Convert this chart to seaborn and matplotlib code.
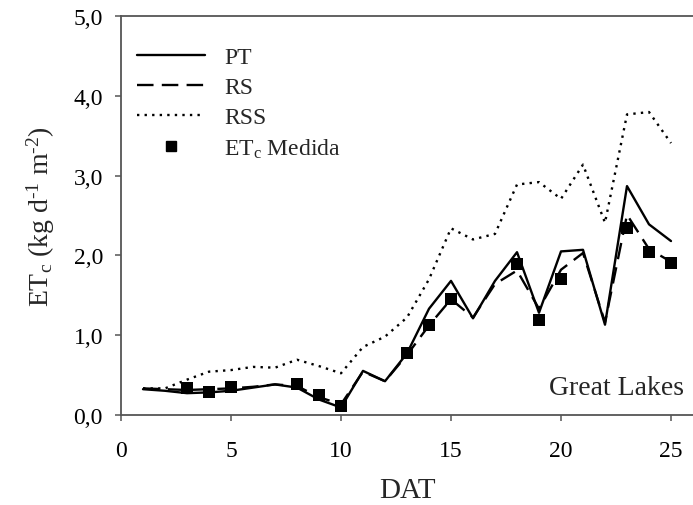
import matplotlib
matplotlib.use("Agg")
import matplotlib.pyplot as plt
import numpy as np
import pandas as pd
import seaborn as sns
from matplotlib.lines import Line2D
from matplotlib.ticker import FuncFormatter

# Days after transplanting and crop evapotranspiration (kg d-1 m-2)
dat = list(range(1, 26))
et_pt = [0.32, 0.30, 0.27, 0.28, 0.30, 0.34, 0.38, 0.34, 0.19, 0.09,
         0.55, 0.42, 0.77, 1.33, 1.68, 1.21, 1.68, 2.04, 1.28, 2.05,
         2.07, 1.13, 2.87, 2.39, 2.18]
et_rs = [0.33, 0.32, 0.31, 0.32, 0.33, 0.35, 0.38, 0.36, 0.22, 0.13,
         0.54, 0.42, 0.75, 1.12, 1.45, 1.22, 1.64, 1.81, 1.33, 1.82,
         2.03, 1.16, 2.51, 2.08, 1.92]
et_rss = [0.33, 0.33, 0.44, 0.54, 0.56, 0.60, 0.59, 0.69, 0.61, 0.52,
          0.85, 0.98, 1.22, 1.70, 2.34, 2.20, 2.27, 2.89, 2.92, 2.71,
          3.14, 2.41, 3.77, 3.80, 3.41]
dat_measured = [3, 4, 5, 8, 9, 10, 13, 14, 15, 18, 19, 20, 23, 24, 25]
et_measured = [0.34, 0.29, 0.35, 0.39, 0.25, 0.105, 0.77, 1.13, 1.45,
               1.89, 1.19, 1.70, 2.34, 2.04, 1.91]

model_labels = ["PT", "RS", "RSS"]
measured_label = r"ET$_\mathrm{c}$ Medida"
x_ticks = [0, 5, 10, 15, 20, 25]
y_ticks = [0, 1, 2, 3, 4, 5]

sns.set_theme(style="ticks")
plt.rcParams["font.family"] = ["Liberation Serif", "DejaVu Serif"]
plt.rcParams["mathtext.fontset"] = "custom"
plt.rcParams["mathtext.rm"] = "Liberation Serif"
plt.rcParams["mathtext.it"] = "Liberation Serif:italic"
plt.rcParams["mathtext.bf"] = "Liberation Serif:bold"

models = pd.DataFrame({"DAT": dat, "PT": et_pt, "RS": et_rs, "RSS": et_rss})
measured = pd.DataFrame({"DAT": dat_measured, "ET": et_measured})

fig = plt.figure(figsize=(6.93, 5.06), dpi=100)
ax = fig.add_axes([0.1746, 0.1785, 0.8254, 0.787])

styles = {
    "PT": "-",
    "RS": (0, (7, 3.5)),
    "RSS": (0, (1, 2.2)),
}
for name in model_labels:
    sns.lineplot(data=models, x="DAT", y=name, ax=ax, color="black",
                 linewidth=1.7, linestyle=styles[name], zorder=2)

sns.scatterplot(data=measured, x="DAT", y="ET", ax=ax, marker="s",
                color="black", s=64, edgecolor="black", linewidth=0,
                zorder=3)

ax.set_xlim(0, 26)
ax.set_ylim(0, 5)
ax.set_xticks(x_ticks)
ax.set_yticks(y_ticks)
ax.yaxis.set_major_formatter(
    FuncFormatter(lambda v, p: f"{v:.1f}".replace(".", ",")))

spine_color = "#555555"
for side in ("left", "bottom", "top"):
    ax.spines[side].set_color(spine_color)
    ax.spines[side].set_linewidth(1.3)
ax.spines["right"].set_visible(False)
ax.tick_params(direction="out", length=4, width=1.1, color=spine_color,
               labelsize=17, labelcolor="black")
ax.tick_params(axis="x", pad=14)
ax.tick_params(axis="y", pad=9)

ax.set_xlabel("DAT", fontsize=21, labelpad=12)
ax.set_ylabel(r"ET$_\mathrm{c}$ (kg d$^{\text{-1}}$ m$^{\text{-2}}$)",
              fontsize=20, labelpad=12)

ax.text(0.984, 0.052, "Great Lakes", transform=ax.transAxes,
        ha="right", va="baseline", fontsize=20)

handles = [
    Line2D([], [], color="black", linewidth=1.7, linestyle=styles["PT"]),
    Line2D([], [], color="black", linewidth=1.7, linestyle=styles["RS"]),
    Line2D([], [], color="black", linewidth=1.7, linestyle=styles["RSS"]),
    Line2D([], [], color="black", marker="s", markersize=7.5,
           linestyle="none"),
]
ax.legend(handles, model_labels + [measured_label], loc="upper left",
          bbox_to_anchor=(-0.014, 0.983), frameon=False, fontsize=17,
          handlelength=2.9, handletextpad=0.8, labelspacing=0.35,
          borderaxespad=0.6)

fig.savefig("out.png", dpi=100)
